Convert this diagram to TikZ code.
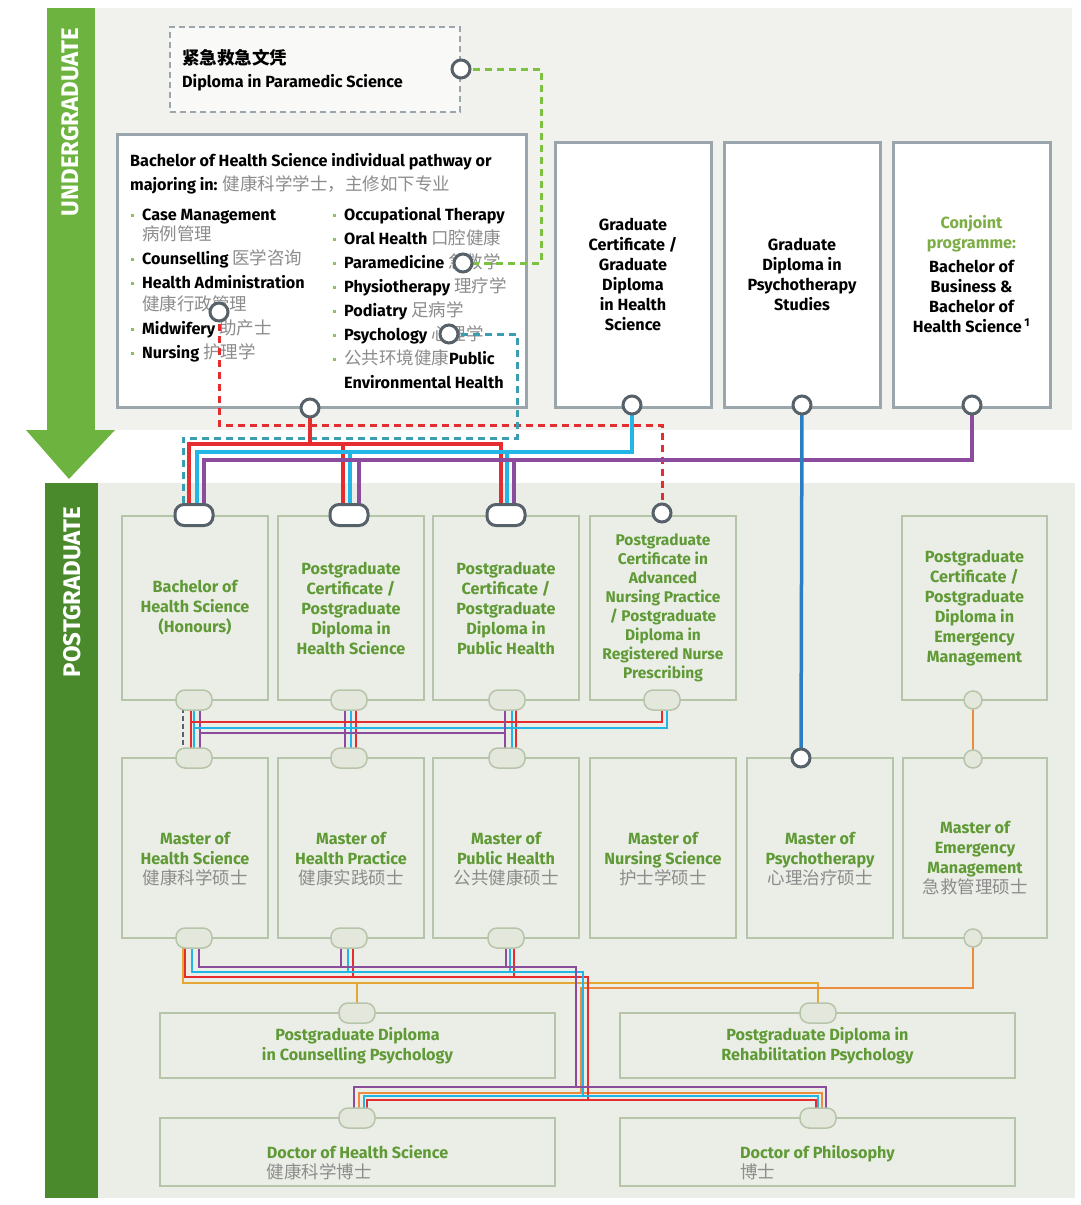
\documentclass[tikz,border=0pt]{standalone}
\usepackage{fontspec}
\setmainfont{Fira Sans}
\newfontfamily\cjk{Noto Sans CJK SC}
\usetikzlibrary{positioning}

\definecolor{ugreen}{HTML}{6DB33F}
\definecolor{pgreen}{HTML}{4A8A2C}
\definecolor{ugbg}{HTML}{F1F2ED}
\definecolor{pgbg}{HTML}{EBEEE6}
\definecolor{boxgray}{HTML}{9BA6AC}
\definecolor{ringgray}{HTML}{56616A}
\definecolor{pgline}{HTML}{B6C4A9}
\definecolor{ovfill}{HTML}{E4E8DC}
\definecolor{txgreen}{HTML}{5F9A36}
\definecolor{cjgreen}{HTML}{7CAE45}
\definecolor{bulgreen}{HTML}{8CC063}
\definecolor{zhgray}{HTML}{8C8C8C}
\definecolor{lred}{HTML}{E52D2F}
\definecolor{lcyan}{HTML}{22B5E6}
\definecolor{lpurple}{HTML}{8B4C9D}
\definecolor{lblue}{HTML}{2A7FC2}
\definecolor{lgold}{HTML}{E4A733}
\definecolor{lorange}{HTML}{EC8C3E}
\definecolor{lgreen}{HTML}{7CC142}
\definecolor{lteal}{HTML}{3A9DB0}

\newcommand{\zh}[1]{{\cjk\mdseries\fontsize{17.5}{20}\selectfont\color{zhgray}#1}}
\newcommand{\itm}{\makebox[11pt][l]{\color{bulgreen}\rule[3.5pt]{3pt}{3pt}}}

\pgfdeclarelayer{back}
\pgfdeclarelayer{lines}
\pgfdeclarelayer{front}
\pgfsetlayers{back,main,lines,front}

\begin{document}
\begin{tikzpicture}[
  x=1pt, y=-1pt,
  font=\bfseries\fontsize{16.2}{20}\selectfont,
  ugbox/.style={draw=boxgray, line width=3pt, fill=white, inner sep=0pt, align=center},
  pgbox/.style={draw=pgline, line width=1.8pt, inner sep=0pt, text=txgreen, align=center},
  listtx/.style={anchor=north west, align=left, inner sep=0pt, font=\bfseries\fontsize{16.2}{24}\selectfont},
  ring/.style={circle, draw=ringgray, line width=3pt, fill=white, minimum size=18pt, inner sep=0pt},
  lring/.style={circle, draw=pgline, line width=1.5pt, fill=ovfill, minimum size=18pt, inner sep=0pt},
  dov/.style={rectangle, rounded corners=9pt, draw=ringgray, line width=3pt, fill=white, minimum width=38pt, minimum height=21pt, inner sep=0pt},
  lov/.style={rectangle, rounded corners=9pt, draw=pgline, line width=1.5pt, fill=ovfill, minimum width=36pt, minimum height=20pt, inner sep=0pt},
  thk/.style={line width=3.5pt},
  thn/.style={line width=2pt},
  gdash/.style={draw=lgreen, line width=3pt, dash pattern=on 7pt off 5pt},
  rdash/.style={draw=lred, line width=3pt, dash pattern=on 7pt off 5pt},
  tdash/.style={draw=lteal, line width=3pt, dash pattern=on 7pt off 5pt},
]

\useasboundingbox (0,0) rectangle (1080,1205);

% background and side bars
\begin{pgfonlayer}{back}
\fill[ugbg] (95,8) rectangle (1072,430);
\fill[pgbg] (98,483) rectangle (1075,1198);
\fill[ugreen] (47,8) rectangle (95,430);
\fill[ugreen] (26,430) -- (115,430) -- (69,479) -- cycle;
\fill[pgreen] (45,483) rectangle (98,1198);
\end{pgfonlayer}

\node[rotate=90, text=white, font=\bfseries\fontsize{24}{24}\selectfont] (ugtitle) at (70,122) {UNDERGRADUATE};
\node[rotate=90, text=white, font=\bfseries\fontsize{24}{24}\selectfont] (pgtitle) at (72,592) {POSTGRADUATE};

% undergraduate
\node[draw=boxgray, dash pattern=on 6pt off 4pt, line width=2.5pt, fill=white!60!ugbg, minimum width=290pt, minimum height=85pt] (para) at (315,69.5) {};
\node[anchor=north west, align=left, inner sep=0pt, font=\bfseries\fontsize{16.2}{23}\selectfont] (paratx) at (182,49) {{\cjk\fontsize{17.5}{20}\selectfont 紧急救急文凭}\\Diploma in Paramedic Science};

\node[ugbox, minimum width=409pt, minimum height=273pt] (bhs) at (321.5,270.5) {};
\node[listtx] (bhshead) at (130,153) {Bachelor of Health Science individual pathway or\\majoring in: \zh{健康科学学士，主修如下专业}};
\node[listtx] (majL) at (131,209) {\itm Case Management\\[-4pt]
  \hspace*{11pt}\zh{病例管理}\\
  \itm Counselling \zh{医学咨询}\\
  \itm Health Administration\\[-2pt]
  \hspace*{11pt}\zh{健康行政管理}\\
  \itm Midwifery \zh{助产士}\\
  \itm Nursing \zh{护理学}};
\node[listtx] (majR) at (333,207) {\itm Occupational Therapy\\
  \itm Oral Health \zh{口腔健康}\\
  \itm Paramedicine \zh{急救学}\\
  \itm Physiotherapy \zh{理疗学}\\
  \itm Podiatry \zh{足病学}\\
  \itm Psychology \zh{心理学}\\
  \itm \zh{公共环境健康}Public\\
  \hspace*{11pt}Environmental Health};

\node[ugbox, minimum width=156pt, minimum height=265pt] (gc) at (633,274.5) {Graduate\\Certificate /\\Graduate\\Diploma\\in Health\\Science};
\node[ugbox, minimum width=156pt, minimum height=265pt] (gdp) at (802,274.5) {Graduate\\Diploma in\\Psychotherapy\\Studies};
\node[ugbox, minimum width=157pt, minimum height=265pt] (conj) at (971.5,274.5) {\textcolor{cjgreen}{Conjoint}\\\textcolor{cjgreen}{programme:}\\[4pt]Bachelor of\\Business \&\\Bachelor of\\Health Science\,\textsuperscript{1}};

% postgraduate, first row
\node[pgbox, minimum width=146pt, minimum height=184pt] (hon) at (195,608) {Bachelor of\\Health Science\\(Honours)};
\node[pgbox, minimum width=146pt, minimum height=184pt] (pghs) at (351,608) {Postgraduate\\Certificate /\\Postgraduate\\Diploma in\\Health Science};
\node[pgbox, minimum width=146pt, minimum height=184pt] (pgph) at (506,608) {Postgraduate\\Certificate /\\Postgraduate\\Diploma in\\Public Health};
\node[pgbox, minimum width=146pt, minimum height=184pt, font=\bfseries\fontsize{15.5}{19}\selectfont] (anp) at (663,608) {Postgraduate\\Certificate in\\Advanced\\Nursing Practice\\/ Postgraduate\\Diploma in\\Registered Nurse\\Prescribing};
\node[pgbox, minimum width=145pt, minimum height=184pt] (pgem) at (974.5,608) {Postgraduate\\Certificate /\\Postgraduate\\Diploma in\\Emergency\\Management};

% second row
\node[pgbox, minimum width=146pt, minimum height=180pt, label={[text=txgreen, align=center, yshift=-11pt]center:Master of\\Health Science\\\zh{健康科学硕士}}] (mhs) at (195,848) {};
\node[pgbox, minimum width=146pt, minimum height=180pt, label={[text=txgreen, align=center, yshift=-11pt]center:Master of\\Health Practice\\\zh{健康实践硕士}}] (mhp) at (351,848) {};
\node[pgbox, minimum width=146pt, minimum height=180pt, label={[text=txgreen, align=center, yshift=-11pt]center:Master of\\Public Health\\\zh{公共健康硕士}}] (mph) at (506,848) {};
\node[pgbox, minimum width=146pt, minimum height=180pt, label={[text=txgreen, align=center, yshift=-11pt]center:Master of\\Nursing Science\\\zh{护士学硕士}}] (mns) at (663,848) {};
\node[pgbox, minimum width=146pt, minimum height=180pt, label={[text=txgreen, align=center, yshift=-11pt]center:Master of\\Psychotherapy\\\zh{心理治疗硕士}}] (mpt) at (820,848) {};
\node[pgbox, minimum width=144pt, minimum height=180pt, label={[text=txgreen, align=center, yshift=-10pt]center:Master of\\Emergency\\Management\\\zh{急救管理硕士}}] (mem) at (975,848) {};

% diplomas and doctorates
\node[pgbox, minimum width=395pt, minimum height=65pt] (dcou) at (357.5,1045.5) {Postgraduate Diploma\\in Counselling Psychology};
\node[pgbox, minimum width=395pt, minimum height=65pt] (dreh) at (817.5,1045.5) {Postgraduate Diploma in\\Rehabilitation Psychology};
\node[pgbox, minimum width=395pt, minimum height=68pt, label={[text=txgreen, align=left, yshift=-11pt]center:Doctor of Health Science\\\zh{健康科学博士}}] (dhs) at (357.5,1152) {};
\node[pgbox, minimum width=395pt, minimum height=68pt, label={[text=txgreen, align=left, yshift=-11pt]center:Doctor of Philosophy\\\zh{博士}}] (dphil) at (817.5,1152) {};

% stations
\begin{pgfonlayer}{front}
\node[ring] (ringPara) at (461,69) {};
\node[ring] (ringPar) at (463,263) {};
\node[ring] (ringHA) at (219,312) {};
\node[ring] (ringPsy) at (449,334) {};
\node[ring] (ringBHS) at (310,408) {};
\node[ring] (ringGC) at (632,405) {};
\node[ring] (ringGD) at (802,405) {};
\node[ring] (ringCJ) at (972,405) {};
\node[dov] (ovHon) at (194,515) {};
\node[dov] (ovPGhs) at (349,515) {};
\node[dov] (ovPGph) at (506,515) {};
\node[ring] (ringANP) at (662,513) {};
\node[lov] (ovHonB) at (194,700) {};
\node[lov] (ovHsB) at (349,700) {};
\node[lov] (ovPhB) at (507,700) {};
\node[lov] (ovAnpB) at (662,700) {};
\node[lring] (ringEmB) at (973,700) {};
\node[lov] (ovMhsT) at (194,758) {};
\node[lov] (ovMhpT) at (349,758) {};
\node[lov] (ovMphT) at (507,758) {};
\node[ring] (ringMP) at (801,758) {};
\node[lring] (ringEmT) at (973,759) {};
\node[lov] (ovMhsB) at (194,938) {};
\node[lov] (ovMhpB) at (349,938) {};
\node[lov] (ovMphB) at (506,938) {};
\node[lring] (ringMemB) at (973,938) {};
\node[lov] (ovCouT) at (357,1013) {};
\node[lov] (ovRehT) at (818,1013) {};
\node[lov] (ovDhs) at (357,1118) {};
\node[lov] (ovDphil) at (818,1118) {};
\end{pgfonlayer}

% lines
\begin{pgfonlayer}{lines}
\draw[gdash] (ringPara.center) -- ++(80,0) |- (ringPar.center);
\draw[rdash] (ringHA.center) -- ++(0,113) -| (ringANP.center);
\draw[tdash] (ringPsy.center) -- ++(68,0) -- ++(0,104) -| ([xshift=-11pt]ovHon.center);
\draw[thk,lred] (ringBHS.center) -- ++(0,36);
\draw[thk,lred] ([xshift=-5pt]ovHon.center) -- ++(0,-71) -| ([xshift=-5pt]ovPGph.center);
\draw[thk,lred] ([xshift=-6pt]ovPGhs.center) -- ++(0,-71);
\draw[thk,lcyan] (ringGC.center) -- ++(0,47) -| ([xshift=3pt]ovHon.center);
\draw[thk,lcyan] ([xshift=1pt]ovPGhs.center) -- ++(0,-63);
\draw[thk,lcyan] ([xshift=1pt]ovPGph.center) -- ++(0,-63);
\draw[thk,lpurple] (ringCJ.center) -- ++(0,55) -| ([xshift=10pt]ovHon.center);
\draw[thk,lpurple] ([xshift=10pt]ovPGhs.center) -- ++(0,-55);
\draw[thk,lpurple] ([xshift=8pt]ovPGph.center) -- ++(0,-55);
\draw[thk,lblue] (ringGD.center) -- (ringMP.center);

% first row to masters
\draw[tdash, line width=1.5pt, draw=ringgray, dash pattern=on 5pt off 3pt] ([xshift=-11pt]ovHonB.center) -- ([xshift=-11pt]ovMhsT.center);
\draw[thn,lred] ([xshift=-3pt]ovHonB.center) -- ([xshift=-3pt]ovMhsT.center);
\draw[thn,lcyan] (ovHonB.center) -- (ovMhsT.center);
\draw[thn,lpurple] ([xshift=6pt]ovHonB.center) -- ([xshift=6pt]ovMhsT.center);
\draw[thn,lpurple] ([xshift=-4pt]ovHsB.center) -- ([xshift=-4pt]ovMhpT.center);
\draw[thn,lcyan] ([xshift=2pt]ovHsB.center) -- ([xshift=2pt]ovMhpT.center);
\draw[thn,lred] ([xshift=7pt]ovHsB.center) -- ([xshift=7pt]ovMhpT.center);
\draw[thn,lpurple] ([xshift=-2pt]ovPhB.center) -- ([xshift=-2pt]ovMphT.center);
\draw[thn,lcyan] ([xshift=5pt]ovPhB.center) -- ([xshift=5pt]ovMphT.center);
\draw[thn,lred] ([xshift=9pt]ovPhB.center) -- ([xshift=9pt]ovMphT.center);
\draw[thn,lred] (ovAnpB.center) -- ++(0,22) -| ([xshift=-3pt]ovMhsT.center);
\draw[thn,lcyan] ([xshift=5pt]ovAnpB.center) -- ++(0,28) -| (ovMhsT.center);
\draw[thn,lpurple] ([xshift=-2pt]ovPhB.center) -- ++(0,33) -| ([xshift=6pt]ovMhsT.center);
\draw[thn,lorange] (ringEmB.center) -- (ringEmT.center);

% masters to diplomas and doctorates
\draw[thn,lgold] ([xshift=-11pt]ovMhsB.center) -- ++(0,45) -| (ovRehT.center);
\draw[thn,lgold] (ovCouT.center) -- ++(0,-30);
\draw[thn,lorange] (ringMemB.center) -- ++(0,50) -- ++(-392,0) -- ++(0,105);
\draw[thn,lorange] ([xshift=4pt]ovDphil.center) -- ++(0,-25) -| ([xshift=2pt]ovDhs.center);
\draw[thn,lred] ([xshift=-9pt]ovMhsB.center) -- ++(0,39) -- ++(403,0) -- ++(0,123);
\draw[thn,lred] ([xshift=4pt]ovMhpB.center) -- ++(0,39);
\draw[thn,lred] ([xshift=8pt]ovMphB.center) -- ++(0,39);
\draw[thn,lred] ([xshift=-2pt]ovDphil.center) -- ++(0,-18) -| ([xshift=10pt]ovDhs.center);
\draw[thn,lcyan] ([xshift=-2pt]ovMhsB.center) -- ++(0,34) -- ++(391,0) -- ++(0,124);
\draw[thn,lcyan] ([xshift=-1pt]ovMhpB.center) -- ++(0,34);
\draw[thn,lcyan] ([xshift=4pt]ovMphB.center) -- ++(0,34);
\draw[thn,lcyan] (ovDphil.center) -- ++(0,-22) -| ([xshift=7pt]ovDhs.center);
\draw[thn,lpurple] ([xshift=5pt]ovMhsB.center) -- ++(0,29) -- ++(377,0) -- ++(0,120);
\draw[thn,lpurple] ([xshift=-8pt]ovMhpB.center) -- ++(0,29);
\draw[thn,lpurple] (ovMphB.center) -- ++(0,29);
\draw[thn,lpurple] ([xshift=8pt]ovDphil.center) -- ++(0,-31) -| ([xshift=-3pt]ovDhs.center);
\end{pgfonlayer}

\end{tikzpicture}
\end{document}
